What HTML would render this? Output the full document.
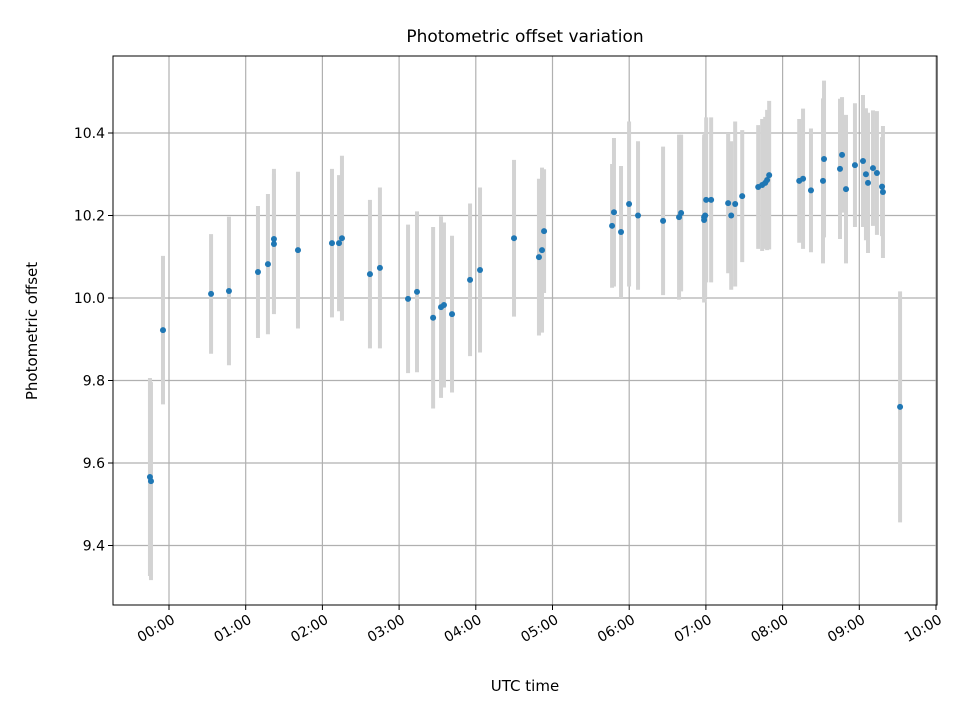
<!DOCTYPE html>
<html><head><meta charset="utf-8"><style>
body{margin:0;background:#fff}
svg{font-family:"DejaVu Sans","Liberation Sans",sans-serif}
</style></head><body>
<svg id="chart" width="960" height="720" viewBox="0 0 960 720">
<rect width="960" height="720" fill="#fff"/>
<g id="grid"></g><g id="bars"></g><g id="pts"></g><g id="axes"></g>
</svg>
<script>
const minutes=[-14.9,-14.1,-4.7,32.9,46.9,69.6,77.4,82.1,82.1,100.9,127.5,133,135.3,157.2,165,187,194,206.6,212.8,215.1,221.4,235.5,243.3,269.9,289.4,291.8,293.4,346.6,348.1,353.6,359.9,366.9,386.5,399,400.6,418.6,418.6,419.4,420.2,424.1,437.4,439.8,442.9,448.4,460.9,464,466.4,467.9,469.5,493,496,502.2,511.6,512.4,524.9,526.5,529.6,536.6,542.9,545.2,546.8,550.7,553.8,557.8,558.5,571.9];
const offsets=[9.566,9.556,9.922,10.01,10.017,10.063,10.082,10.143,10.131,10.116,10.133,10.133,10.145,10.058,10.073,9.998,10.015,9.952,9.978,9.983,9.961,10.044,10.068,10.145,10.099,10.116,10.162,10.175,10.208,10.16,10.228,10.2,10.187,10.196,10.206,10.196,10.189,10.2,10.238,10.238,10.23,10.2,10.228,10.247,10.269,10.274,10.279,10.286,10.298,10.284,10.289,10.261,10.284,10.337,10.313,10.347,10.264,10.322,10.332,10.3,10.279,10.315,10.303,10.27,10.257,9.736];
const errors=[0.24,0.24,0.18,0.145,0.18,0.16,0.17,0.17,0.17,0.19,0.18,0.165,0.2,0.18,0.195,0.18,0.195,0.22,0.22,0.2,0.19,0.185,0.2,0.19,0.19,0.2,0.15,0.15,0.18,0.16,0.2,0.18,0.18,0.2,0.19,0.2,0.2,0.2,0.2,0.2,0.17,0.18,0.2,0.16,0.15,0.16,0.16,0.17,0.18,0.15,0.17,0.15,0.2,0.19,0.17,0.14,0.18,0.15,0.16,0.16,0.17,0.14,0.15,0.12,0.16,0.28];
const xTickLabels=["00:00","01:00","02:00","03:00","04:00","05:00","06:00","07:00","08:00","09:00","10:00"];
const yTicks=[9.4,9.6,9.8,10.0,10.2,10.4];
const L=113,R=937,T=56,B=605;
const X=m=>169+m/60*76.7;
const Y=v=>298-(v-10)*412.5;
const NS="http://www.w3.org/2000/svg";
function mk(tag,attrs,parent){const e=document.createElementNS(NS,tag);for(const k in attrs)e.setAttribute(k,attrs[k]);parent.appendChild(e);return e;}
const grid=document.getElementById('grid'),bars=document.getElementById('bars'),pts=document.getElementById('pts'),axes=document.getElementById('axes');
xTickLabels.forEach((t,i)=>{const x=X(i*60);
 const g=mk('line',{x1:x,x2:x,y1:T,y2:B,stroke:'#b0b0b0','stroke-width':1.2},grid);
 
 const tk=mk('line',{x1:x,x2:x,y1:B,y2:B+5,stroke:'#000','stroke-width':1},axes);
 
 const ax=x+2,ay=B+9;
 const tx=mk('text',{x:ax,y:ay,'font-size':14,'text-anchor':'end','dominant-baseline':'hanging',transform:`rotate(-30 ${ax} ${ay})`},axes);
 tx.textContent=t;});
yTicks.forEach(v=>{const y=Y(v);
 const g=mk('line',{x1:L,x2:R,y1:y,y2:y,stroke:'#b0b0b0','stroke-width':1.2},grid);
 
 const tk=mk('line',{x1:L-5,x2:L,y1:y,y2:y,stroke:'#000','stroke-width':1},axes);
 
 const tx=mk('text',{x:L-8,y:y+5,'font-size':14,'text-anchor':'end'},axes);
 tx.textContent=v.toFixed(1);});
minutes.forEach((m,i)=>{const x=X(m);
 const b=mk('line',{x1:x,x2:x,y1:Y(offsets[i]+errors[i]),y2:Y(offsets[i]-errors[i]),stroke:'#d3d3d3','stroke-width':4},bars);
 
 const c=mk('circle',{cx:x,cy:Y(offsets[i]),r:3,fill:'#1f77b4'},pts);
 });
const fr=mk('rect',{x:L,y:T,width:R-L,height:B-T,fill:'none',stroke:'#000','stroke-width':1},axes);

const tt=mk('text',{x:(L+R)/2,y:42,'font-size':17,'text-anchor':'middle'},axes);
tt.textContent='Photometric offset variation';
const xl=mk('text',{x:(L+R)/2,y:691,'font-size':15,'text-anchor':'middle'},axes);
xl.textContent='UTC time';
const yl=mk('text',{x:37,y:331,'font-size':15,'text-anchor':'middle',transform:'rotate(-90 37 331)'},axes);
yl.textContent='Photometric offset';
</script>
</body></html>
